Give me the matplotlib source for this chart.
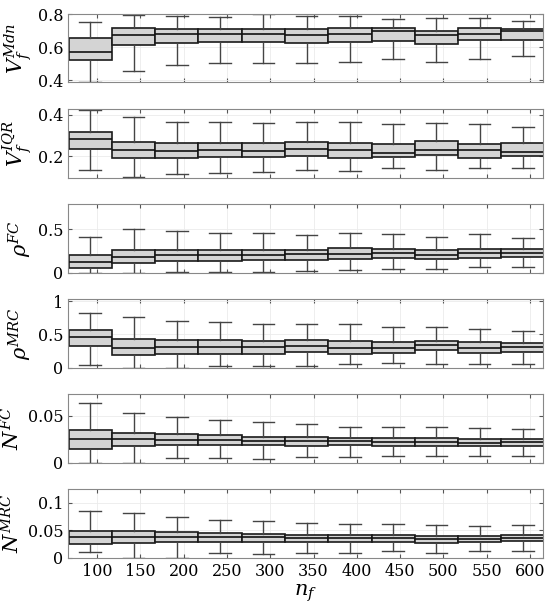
import numpy as np
import matplotlib
matplotlib.use('Agg')
import matplotlib.pyplot as plt
from matplotlib.ticker import FuncFormatter

plt.rcParams['font.family'] = ['DejaVu Serif']
plt.rcParams['mathtext.fontset'] = 'dejavuserif'

# number of features
n_f = [100, 150, 200, 250, 300, 350, 400, 450, 500, 550, 600]

# V_f^Mdn
vmdn_med = [0.572, 0.675, 0.679, 0.681, 0.678, 0.673, 0.681, 0.696, 0.675, 0.679, 0.695]
vmdn_q1 = [0.521, 0.615, 0.626, 0.628, 0.628, 0.624, 0.630, 0.636, 0.620, 0.640, 0.642]
vmdn_q3 = [0.658, 0.714, 0.710, 0.708, 0.707, 0.707, 0.714, 0.714, 0.695, 0.716, 0.710]
vmdn_lo = [0.385, 0.455, 0.492, 0.503, 0.503, 0.501, 0.509, 0.526, 0.507, 0.528, 0.546]
vmdn_hi = [0.755, 0.792, 0.790, 0.782, 0.800, 0.786, 0.788, 0.772, 0.778, 0.778, 0.757]

# V_f^IQR
viqr_med = [0.282, 0.229, 0.224, 0.227, 0.226, 0.234, 0.227, 0.217, 0.227, 0.227, 0.222]
viqr_q1 = [0.235, 0.192, 0.193, 0.194, 0.194, 0.200, 0.192, 0.194, 0.203, 0.193, 0.201]
viqr_q3 = [0.318, 0.270, 0.264, 0.264, 0.264, 0.267, 0.262, 0.258, 0.272, 0.258, 0.261]
viqr_lo = [0.134, 0.097, 0.113, 0.116, 0.124, 0.131, 0.126, 0.144, 0.134, 0.142, 0.142]
viqr_hi = [0.424, 0.389, 0.366, 0.363, 0.359, 0.366, 0.363, 0.354, 0.360, 0.354, 0.339]

# rho^FC
rfc_med = [0.119, 0.185, 0.200, 0.200, 0.208, 0.211, 0.215, 0.226, 0.207, 0.230, 0.223]
rfc_q1 = [0.058, 0.115, 0.130, 0.138, 0.142, 0.150, 0.161, 0.169, 0.161, 0.173, 0.184]
rfc_q3 = [0.200, 0.265, 0.265, 0.265, 0.265, 0.261, 0.280, 0.277, 0.257, 0.277, 0.269]
rfc_lo = [0.0, 0.0, 0.005, 0.010, 0.010, 0.018, 0.027, 0.038, 0.046, 0.065, 0.065]
rfc_hi = [0.410, 0.503, 0.480, 0.460, 0.453, 0.430, 0.453, 0.442, 0.410, 0.446, 0.404]

# rho^MRC
rmrc_med = [0.457, 0.300, 0.310, 0.310, 0.305, 0.320, 0.300, 0.296, 0.339, 0.300, 0.310]
rmrc_q1 = [0.324, 0.196, 0.210, 0.210, 0.210, 0.229, 0.210, 0.214, 0.263, 0.220, 0.243]
rmrc_q3 = [0.563, 0.429, 0.410, 0.410, 0.405, 0.410, 0.405, 0.381, 0.405, 0.386, 0.376]
rmrc_lo = [0.048, 0.0, 0.0, 0.029, 0.029, 0.024, 0.053, 0.071, 0.053, 0.057, 0.057]
rmrc_hi = [0.829, 0.762, 0.710, 0.686, 0.653, 0.653, 0.653, 0.620, 0.614, 0.581, 0.549]

# N^FC
nfc_med = [0.0250, 0.0250, 0.0245, 0.0240, 0.0233, 0.0233, 0.0230, 0.0222, 0.0222, 0.0215, 0.0218]
nfc_q1 = [0.0145, 0.0176, 0.0187, 0.0187, 0.0187, 0.0183, 0.0190, 0.0183, 0.0183, 0.0180, 0.0180]
nfc_q3 = [0.0352, 0.0320, 0.0307, 0.0293, 0.0278, 0.0278, 0.0268, 0.0260, 0.0265, 0.0257, 0.0257]
nfc_lo = [0.0, 0.0, 0.0056, 0.0046, 0.0040, 0.0063, 0.0060, 0.0070, 0.0067, 0.0077, 0.0070]
nfc_hi = [0.0637, 0.0536, 0.0486, 0.0455, 0.0430, 0.0415, 0.0384, 0.0377, 0.0380, 0.0370, 0.0363]

# N^MRC
nmrc_med = [0.0379, 0.0385, 0.0385, 0.0372, 0.0372, 0.0354, 0.0354, 0.0360, 0.0348, 0.0348, 0.0354]
nmrc_q1 = [0.0251, 0.0262, 0.0280, 0.0280, 0.0287, 0.0293, 0.0293, 0.0293, 0.0275, 0.0293, 0.0299]
nmrc_q3 = [0.0489, 0.0495, 0.0470, 0.0452, 0.0440, 0.0421, 0.0421, 0.0415, 0.0403, 0.0403, 0.0415]
nmrc_lo = [0.0110, 0.0, 0.0, 0.0079, 0.0068, 0.0086, 0.0079, 0.0116, 0.0086, 0.0116, 0.0128]
nmrc_hi = [0.0848, 0.0811, 0.0738, 0.0683, 0.0660, 0.0635, 0.0617, 0.0610, 0.0592, 0.0580, 0.0592]

panels = [
    (r'$V_f^{Mdn}$', vmdn_med, vmdn_q1, vmdn_q3, vmdn_lo, vmdn_hi, (0.385, 0.80), [0.4, 0.6, 0.8]),
    (r'$V_f^{IQR}$', viqr_med, viqr_q1, viqr_q3, viqr_lo, viqr_hi, (0.096, 0.427), [0.2, 0.4]),
    (r'$\rho^{FC}$', rfc_med, rfc_q1, rfc_q3, rfc_lo, rfc_hi, (0, 0.79), [0, 0.5]),
    (r'$\rho^{MRC}$', rmrc_med, rmrc_q1, rmrc_q3, rmrc_lo, rmrc_hi, (0, 1.03), [0, 0.5, 1]),
    (r'$N^{FC}$', nfc_med, nfc_q1, nfc_q3, nfc_lo, nfc_hi, (0, 0.073), [0, 0.05]),
    (r'$N^{MRC}$', nmrc_med, nmrc_q1, nmrc_q3, nmrc_lo, nmrc_hi, (0, 0.124), [0, 0.05, 0.1]),
]

fig, axes = plt.subplots(6, 1, figsize=(5.5, 6.13), dpi=100)
plt.subplots_adjust(left=0.124, right=0.987, top=0.977, bottom=0.09, hspace=0.39)

# boxes sit a little left of the ticks in the original
pos = np.array(n_f) - 8

for ax, (label, med, q1, q3, lo, hi, ylim, yticks) in zip(axes, panels):
    stats = []
    for i in range(len(n_f)):
        stats.append(dict(med=med[i], q1=q1[i], q3=q3[i], whislo=lo[i], whishi=hi[i], fliers=[]))
    ax.bxp(stats, positions=pos, widths=50, capwidths=25, patch_artist=True,
           showfliers=False, manage_ticks=False,
           boxprops=dict(facecolor='#d4d4d4', edgecolor='#1a1a1a', linewidth=1.2),
           medianprops=dict(color='#111111', linewidth=1.2),
           whiskerprops=dict(color='#444444', linewidth=1.0),
           capprops=dict(color='#444444', linewidth=1.0))
    ax.set_xlim(66.5, 615)
    ax.set_ylim(*ylim)
    ax.set_xticks(n_f)
    ax.set_yticks(yticks)
    ax.yaxis.set_major_formatter(FuncFormatter(lambda v, p: '%g' % v))
    ax.grid(True, color='#ebebeb', linewidth=0.6)
    ax.set_axisbelow(True)
    ax.tick_params(direction='in', top=True, right=True, length=3, color='#555555',
                   labelsize=11.5)
    for s in ax.spines.values():
        s.set_color('#888888')
        s.set_linewidth(0.8)
    ax.set_ylabel(label, fontsize=15, labelpad=3)
    if ax is not axes[-1]:
        ax.set_xticklabels([])

axes[-1].set_xlabel(r'$n_f$', fontsize=15, labelpad=2)

plt.savefig('out.png', dpi=100)
